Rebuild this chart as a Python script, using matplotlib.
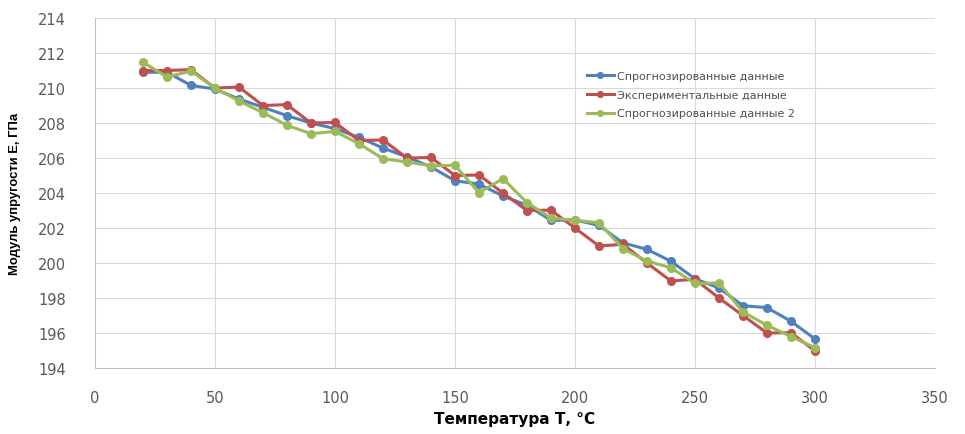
import matplotlib
matplotlib.use("Agg")
import matplotlib.pyplot as plt
from matplotlib import font_manager

temps = [20, 30, 40, 50, 60, 70, 80, 90, 100, 110, 120, 130, 140, 150, 160,
         170, 180, 190, 200, 210, 220, 230, 240, 250, 260, 270, 280, 290, 300]

predicted = [210.9, 210.9, 210.15, 209.94, 209.37, 208.9, 208.42, 208.0, 207.68,
             207.18, 206.57, 206.06, 205.49, 204.7, 204.51, 203.83, 203.3, 202.44,
             202.46, 202.15, 201.15, 200.78, 200.1, 199.1, 198.57, 197.56, 197.45,
             196.67, 195.66]

experimental = [211.0, 211.0, 211.05, 210.0, 210.05, 209.0, 209.05, 208.0, 208.03,
                207.0, 207.03, 206.0, 206.03, 205.0, 205.03, 204.0, 203.0, 203.02,
                202.0, 200.97, 201.07, 200.0, 198.97, 199.07, 198.0, 197.0, 196.0,
                196.02, 194.97]

predicted2 = [211.47, 210.63, 210.97, 210.0, 209.26, 208.59, 207.87, 207.39, 207.52,
              206.82, 205.96, 205.77, 205.56, 205.58, 204.02, 204.82, 203.45, 202.57,
              202.44, 202.3, 200.82, 200.11, 199.73, 198.83, 198.86, 197.2, 196.44,
              195.8, 195.16]

series_labels = ["Спрогнозированные данные", "Экспериментальные данные",
                 "Спрогнозированные данные 2"]
colors = ["#4F81BD", "#C0504D", "#9BBB59"]

installed = {f.name for f in font_manager.fontManager.ttflist}
if "Liberation Sans Narrow" in installed:
    ylab_family, ylab_size = ["Liberation Sans Narrow", "DejaVu Sans"], 10.8
else:
    ylab_family, ylab_size = ["Liberation Sans", "DejaVu Sans"], 9.4

fig = plt.figure(figsize=(9.65, 4.35), dpi=100)
ax = fig.add_axes([0.0984, 0.1517, 0.8705, 0.8046])

for vals, lab, c in zip([predicted, experimental, predicted2], series_labels, colors):
    ax.plot(temps, vals, color=c, lw=2.2, marker="o", ms=5.5, label=lab)

ax.set_xlim(0, 350)
ax.set_ylim(194, 214)
ax.set_xticks(range(0, 351, 50))
ax.set_yticks(range(194, 215, 2))
ax.grid(True, which="major", axis="both", color="#D9D9D9", lw=0.75)
ax.set_axisbelow(True)
for s in ["top", "right"]:
    ax.spines[s].set_visible(False)
for s in ["left", "bottom"]:
    ax.spines[s].set_color("#BFBFBF")
    ax.spines[s].set_linewidth(0.75)
ax.tick_params(length=0, labelsize=10.5, labelcolor="#595959")
ax.tick_params(axis="y", pad=21)
ax.tick_params(axis="x", pad=16)
for t in ax.get_xticklabels() + ax.get_yticklabels():
    t.set_fontfamily(["DejaVu Sans"])

ax.set_xlabel("Температура Т, °С", fontsize=11, fontweight="bold",
              family=["DejaVu Sans"], labelpad=4, color="black")
ax.set_ylabel("Модуль упругости Е, ГПа", fontsize=ylab_size, fontweight="bold",
              family=ylab_family, labelpad=12, color="black")

leg = ax.legend(loc="upper left", bbox_to_anchor=(0.574, 0.878), frameon=False,
                handlelength=2.4, labelspacing=0.8, markerscale=0.75,
                handletextpad=0.3,
                prop={"family": ["DejaVu Sans"], "size": 8})
for t in leg.get_texts():
    t.set_color("#505050")

fig.savefig("out.png", dpi=100)
